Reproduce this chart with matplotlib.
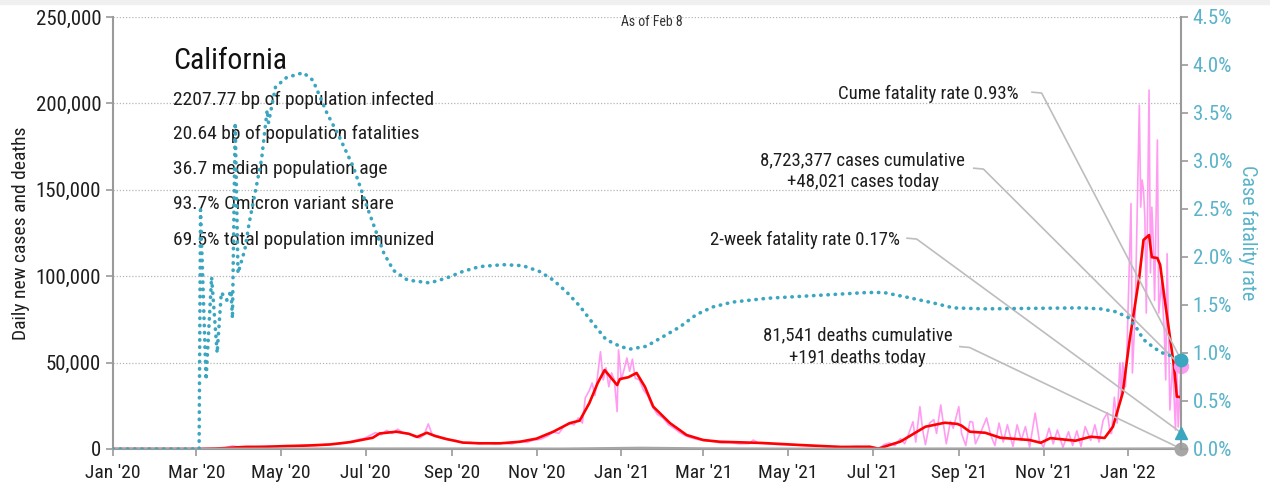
import pandas as pd
import numpy as np
import matplotlib
matplotlib.use('Agg')
import matplotlib.pyplot as plt
import matplotlib.dates as mdates
from matplotlib.ticker import FuncFormatter, MultipleLocator
from matplotlib.patches import Rectangle

plt.rcParams['font.family'] = ['Roboto Condensed', 'DejaVu Sans']

# daily new cases (pink, noisy)
daily_dates = [
    '2020-01-01', '2020-02-15', '2020-03-01', '2020-03-15', '2020-03-22', '2020-03-27', '2020-04-01',
    '2020-04-07', '2020-04-14', '2020-04-21', '2020-04-28', '2020-05-05', '2020-05-12', '2020-05-19',
    '2020-05-26', '2020-06-02', '2020-06-09', '2020-06-16', '2020-06-23', '2020-06-30', '2020-07-04',
    '2020-07-08', '2020-07-12', '2020-07-16', '2020-07-20', '2020-07-24', '2020-07-28', '2020-08-01',
    '2020-08-05', '2020-08-09', '2020-08-12', '2020-08-15', '2020-08-18', '2020-08-22', '2020-08-26',
    '2020-08-30', '2020-09-04', '2020-09-09', '2020-09-14', '2020-09-20', '2020-09-26', '2020-10-02',
    '2020-10-08', '2020-10-14', '2020-10-20', '2020-10-25', '2020-10-30', '2020-11-04', '2020-11-09',
    '2020-11-13', '2020-11-17', '2020-11-21', '2020-11-24', '2020-11-28', '2020-12-01', '2020-12-04',
    '2020-12-06', '2020-12-09', '2020-12-11', '2020-12-13', '2020-12-15', '2020-12-17', '2020-12-19',
    '2020-12-21', '2020-12-23', '2020-12-25', '2020-12-27', '2020-12-29', '2020-12-30', '2021-01-01',
    '2021-01-03', '2021-01-05', '2021-01-07', '2021-01-09', '2021-01-11', '2021-01-14', '2021-01-17',
    '2021-01-20', '2021-01-23', '2021-01-27', '2021-01-31', '2021-02-04', '2021-02-08', '2021-02-12',
    '2021-02-16', '2021-02-20', '2021-02-25', '2021-03-02', '2021-03-08', '2021-03-14', '2021-03-20',
    '2021-03-27', '2021-04-03', '2021-04-06', '2021-04-10', '2021-04-17', '2021-04-24', '2021-05-01',
    '2021-05-08', '2021-05-15', '2021-05-22', '2021-05-29', '2021-06-05', '2021-06-12', '2021-06-19',
    '2021-06-26', '2021-07-03', '2021-07-06', '2021-07-09', '2021-07-13', '2021-07-17', '2021-07-21',
    '2021-07-24', '2021-07-27', '2021-07-30', '2021-08-01', '2021-08-04', '2021-08-06', '2021-08-08',
    '2021-08-11', '2021-08-14', '2021-08-16', '2021-08-19', '2021-08-21', '2021-08-23', '2021-08-26',
    '2021-08-28', '2021-09-01', '2021-09-03', '2021-09-06', '2021-09-09', '2021-09-11', '2021-09-13',
    '2021-09-17', '2021-09-21', '2021-09-24', '2021-09-27', '2021-09-30', '2021-10-03', '2021-10-06',
    '2021-10-10', '2021-10-13', '2021-10-16', '2021-10-19', '2021-10-22', '2021-10-26', '2021-10-29',
    '2021-11-01', '2021-11-05', '2021-11-08', '2021-11-11', '2021-11-15', '2021-11-19', '2021-11-22',
    '2021-11-25', '2021-11-28', '2021-12-01', '2021-12-05', '2021-12-08', '2021-12-11', '2021-12-14',
    '2021-12-17', '2021-12-19', '2021-12-20', '2021-12-22', '2021-12-24', '2021-12-26', '2021-12-27',
    '2021-12-28', '2021-12-30', '2021-12-31', '2022-01-03', '2022-01-04', '2022-01-06', '2022-01-09',
    '2022-01-10', '2022-01-11', '2022-01-12', '2022-01-13', '2022-01-14', '2022-01-16', '2022-01-17',
    '2022-01-18', '2022-01-19', '2022-01-20', '2022-01-22', '2022-01-23', '2022-01-25', '2022-01-27',
    '2022-01-28', '2022-01-29', '2022-01-31', '2022-02-02', '2022-02-04', '2022-02-05', '2022-02-06',
    '2022-02-08',
]
daily_cases = [
    0, 0, 30, 300, 700, 1800, 1100,
    1400, 1100, 1600, 1500, 1900, 1700, 2200,
    2000, 2700, 2800, 3300, 5000, 6200, 7800,
    9500, 8200, 10800, 9000, 11500, 9200, 8800,
    7200, 6400, 8200, 14500, 8000, 7600, 5800,
    5200, 5000, 3500, 3900, 3100, 3600, 3000,
    3400, 2900, 4400, 3800, 5200, 5600, 7500,
    9800, 9000, 13500, 15000, 14000, 18000, 15000,
    29500, 34000, 38200, 31000, 43000, 56300, 40000,
    47000, 36000, 44000, 40000, 21600, 57300, 40000,
    46000, 52700, 45000, 52000, 41000, 40000, 34000,
    31000, 25000, 20000, 18000, 14000, 12000, 9500,
    7800, 6500, 5500, 4800, 4300, 3500, 3700,
    3000, 3100, 5200, 3300, 3000, 2600, 2400,
    2200, 2000, 1800, 1300, 1400, 1100, 1500,
    1200, 800, 100, 2500, 3500, 2000, 6000,
    3000, 9000, 15800, 4000, 24500, 11000, 2500,
    15000, 17000, 9000, 25500, 14000, 3000, 16000,
    12000, 24500, 9000, 2000, 16000, 15500, 3000,
    10000, 18000, 8000, 2000, 15000, 4000, 14000,
    1500, 14000, 5000, 13000, 1000, 20800, 5000,
    1000, 12000, 3000, 11000, 1000, 10000, 2000,
    10500, 1500, 13000, 5000, 14000, 4000, 16800,
    21000, 9000, 9000, 30000, 15000, 49800, 30000,
    50000, 36000, 55000, 142000, 44000, 78700, 199000,
    140000, 155700, 150000, 134000, 78700, 207700, 101900,
    140000, 121000, 86000, 178800, 78700, 97000, 67000,
    40000, 113000, 22600, 49800, 11000, 44000, 12700,
    48021,
]

# 7-day average of cases (red)
avg_dates = [
    '2020-01-01', '2020-03-01', '2020-03-15', '2020-03-25', '2020-04-05', '2020-04-20', '2020-05-05',
    '2020-05-20', '2020-06-05', '2020-06-20', '2020-07-06', '2020-07-11', '2020-07-23', '2020-08-01',
    '2020-08-07', '2020-08-14', '2020-08-20', '2020-08-28', '2020-09-09', '2020-09-21', '2020-10-06',
    '2020-10-20', '2020-11-01', '2020-11-13', '2020-11-25', '2020-12-02', '2020-12-09', '2020-12-15',
    '2020-12-20', '2020-12-29', '2020-12-31', '2021-01-06', '2021-01-12', '2021-01-18', '2021-01-24',
    '2021-02-05', '2021-02-17', '2021-03-01', '2021-03-13', '2021-04-12', '2021-05-10', '2021-06-08',
    '2021-06-29', '2021-07-05', '2021-07-10', '2021-07-21', '2021-08-04', '2021-08-08', '2021-08-22',
    '2021-08-31', '2021-09-03', '2021-09-09', '2021-09-20', '2021-10-01', '2021-10-22', '2021-10-30',
    '2021-11-06', '2021-11-24', '2021-12-05', '2021-12-15', '2021-12-21', '2021-12-28', '2022-01-02',
    '2022-01-05', '2022-01-09', '2022-01-12', '2022-01-16', '2022-01-18', '2022-01-22', '2022-01-24',
    '2022-01-27', '2022-01-30', '2022-02-03', '2022-02-05', '2022-02-08',
]
avg_cases = [
    0, 10, 250, 700, 1200, 1300, 1700,
    2000, 2600, 4000, 6500, 9000, 10000, 8800,
    7000, 9400, 7500, 5800, 3700, 3300, 3300,
    4200, 6000, 10000, 15000, 16400, 26600, 38200,
    45700, 37000, 40500, 41500, 44000, 36000, 24500,
    15000, 8100, 5200, 4200, 3500, 2300, 1200,
    1300, 200, 1500, 4300, 11000, 12900, 15200,
    14500, 13500, 10000, 9400, 6500, 5200, 3600,
    6300, 4800, 7100, 6400, 12900, 32400, 63000,
    78700, 99700, 121000, 123800, 111000, 110500, 106500,
    88000, 70800, 47600, 30300, 30000,
]

# 7-day average of deaths (grey, near zero)
death_dates = ['2020-01-01', '2020-03-15', '2020-04-20', '2020-07-01', '2020-08-10', '2020-10-15',
               '2020-11-20', '2021-01-15', '2021-03-01', '2021-05-01', '2021-07-01', '2021-09-01',
               '2021-11-01', '2021-12-20', '2022-01-31', '2022-02-08']
avg_deaths = [0, 10, 80, 90, 140, 70, 50, 550, 200, 40, 20, 110, 50, 40, 150, 180]

# cumulative case fatality rate, %
cfr_dates = [
    '2020-01-01', '2020-03-01', '2020-03-03', '2020-03-04', '2020-03-08', '2020-03-12', '2020-03-16',
    '2020-03-19', '2020-03-23', '2020-03-26', '2020-03-27', '2020-03-29', '2020-03-31', '2020-04-05',
    '2020-04-08', '2020-04-13', '2020-04-17', '2020-04-21', '2020-04-22', '2020-04-27', '2020-05-05',
    '2020-05-17', '2020-05-24', '2020-06-03', '2020-06-12', '2020-06-22', '2020-07-02', '2020-07-14',
    '2020-07-21', '2020-07-31', '2020-08-16', '2020-08-28', '2020-09-09', '2020-09-21', '2020-10-08',
    '2020-10-22', '2020-11-03', '2020-11-13', '2020-11-23', '2020-12-02', '2020-12-11', '2020-12-21',
    '2020-12-31', '2021-01-07', '2021-01-19', '2021-01-31', '2021-02-12', '2021-02-24', '2021-03-08',
    '2021-03-22', '2021-04-16', '2021-05-10', '2021-06-27', '2021-07-09', '2021-07-26', '2021-08-14',
    '2021-08-28', '2021-09-19', '2021-11-27', '2021-12-12', '2021-12-23', '2022-01-01', '2022-01-07',
    '2022-01-12', '2022-01-20', '2022-01-27', '2022-02-04', '2022-02-08',
]
cfr = [
    0.0, 0.0, 0.0, 2.49, 0.72, 1.79, 1.0,
    1.63, 1.55, 1.65, 1.36, 3.4, 1.83, 2.08,
    2.35, 2.72, 3.02, 3.53, 3.4, 3.77, 3.87,
    3.92, 3.84, 3.5, 3.25, 2.94, 2.52, 2.04,
    1.86, 1.76, 1.73, 1.78, 1.85, 1.90, 1.92,
    1.91, 1.85, 1.76, 1.63, 1.49, 1.32, 1.14,
    1.07, 1.04, 1.07, 1.17, 1.27, 1.40, 1.48,
    1.53, 1.57, 1.59, 1.63, 1.63, 1.58, 1.52,
    1.47, 1.46, 1.47, 1.46, 1.43, 1.37, 1.26,
    1.14, 1.05, 0.99, 0.96, 0.93,
]

last_day = '2022-02-08'
today_cases = 48021
today_deaths = 191
cume_cfr = 0.93
two_week_cfr = 0.17

stats = ['2207.77 bp of population infected', '20.64 bp of population fatalities',
         '36.7 median population age', '93.7% Omicron variant share',
         '69.5% total population immunized']

PINK = '#ff9cf2'
RED = '#ff0000'
TEAL = '#3aa6c0'
TEAL_TXT = '#5ab3ca'
GREY = '#a6a6a6'
LEAD = '#bdbdbd'
INK = '#1e1e1e'

fig = plt.figure(figsize=(12.7, 4.88), dpi=100)
fig.patches.append(Rectangle((0, 1 - 4 / 488), 1, 4 / 488, transform=fig.transFigure,
                             color='#f0f0f0', zorder=0))
ax = fig.add_axes([113 / 1270, 39 / 488, 1068 / 1270, 432 / 488])
ax2 = ax.twinx()

ymax = 250000
rmax = 4.5
x0 = pd.Timestamp('2020-01-01')
x1 = pd.Timestamp(last_day)

ax.plot(pd.to_datetime(daily_dates), daily_cases, color=PINK, lw=1.2, zorder=2)
ax.plot(pd.to_datetime(avg_dates), avg_cases, color=RED, lw=1.9, zorder=3)
ax.plot(pd.to_datetime(death_dates), avg_deaths, color=GREY, lw=2.0, zorder=3)
ax2.plot(pd.to_datetime(cfr_dates), cfr, color=TEAL, lw=2.6, linestyle=(0, (0.1, 1.9)),
         dash_capstyle='round', zorder=3)

ax.set_xlim(x0, x1)
ax.set_ylim(0, ymax)
ax2.set_ylim(0, rmax)

ax.yaxis.set_major_locator(MultipleLocator(50000))
ax.yaxis.set_major_formatter(FuncFormatter(lambda v, p: f'{int(v):,}'))
ax2.yaxis.set_major_locator(MultipleLocator(0.5))
ax2.yaxis.set_major_formatter(FuncFormatter(lambda v, p: f'{v:.1f}%'))
ax.xaxis.set_major_locator(mdates.MonthLocator(bymonth=[1, 3, 5, 7, 9, 11]))
ax.xaxis.set_major_formatter(mdates.DateFormatter("%b '%y"))

for y in range(50000, ymax + 1, 50000):
    ax.axhline(y, color='#b5b5b5', lw=0.9, linestyle=(0, (1, 1.5)), zorder=1)

for a in (ax, ax2):
    for s in a.spines.values():
        s.set_visible(False)
ax.spines['left'].set_visible(True)
ax.spines['bottom'].set_visible(True)
ax2.spines['right'].set_visible(True)
for s in (ax.spines['left'], ax.spines['bottom'], ax2.spines['right']):
    s.set_color('#9a9a9a')
    s.set_linewidth(1.5)

ax.tick_params(axis='y', colors='#9a9a9a', labelcolor=INK, labelsize=15, length=5, width=1.2)
ax.tick_params(axis='x', colors='#9a9a9a', labelcolor=INK, labelsize=14, length=5, width=1.2, pad=6)
ax2.tick_params(axis='y', colors='#9a9a9a', labelcolor=TEAL_TXT, labelsize=15, length=5, width=1.2)

ax.set_ylabel('Daily new cases and deaths', fontsize=14, color=INK, labelpad=4)
ax2.set_ylabel('Case fatality rate', fontsize=14.5, color=TEAL_TXT, rotation=270, labelpad=18)

# title and stat block
ax.text(0.0562, 0.898, 'California', transform=ax.transAxes, fontsize=21.5, color='#111111',
        va='center', ha='left')
for i, line in enumerate(stats):
    ax.text(0.0562, [0.808, 0.729, 0.648, 0.567, 0.484][i], line, transform=ax.transAxes,
            fontsize=14, color=INK, va='center', ha='left')
ax.text(0.5047, 0.988, 'As of Feb 8', transform=ax.transAxes, fontsize=10, color='#333333',
        va='center', ha='center')


def frac(fx, fy):
    # axes fraction -> left-axis data
    return (mdates.date2num(x0) + fx * (mdates.date2num(x1) - mdates.date2num(x0)), fy * ymax)


xe = mdates.date2num(x1)
ends = [
    ((0.848, 0.822), 'Cume fatality rate 0.93%', 'right', (0.8605, 0.826), cume_cfr * ymax / rmax),
    ((0.702, 0.6435), '8,723,377 cases cumulative\n+48,021 cases today', 'center', (0.806, 0.650), today_cases),
    ((0.737, 0.484), '2-week fatality rate 0.17%', 'right', (0.7435, 0.488), two_week_cfr * ymax / rmax),
    ((0.697, 0.237), '81,541 deaths cumulative\n+191 deaths today', 'center', (0.793, 0.237), today_deaths),
]
for (tx, ty), txt, ha, (lx, ly), yend in ends:
    ax.text(tx, ty, txt, transform=ax.transAxes, fontsize=13.5, color=INK, ha=ha,
            va='center', linespacing=1.3, multialignment='center')
    p0 = frac(lx, ly)
    p1 = frac(lx + 0.009, ly - 0.002)
    ax.plot([p0[0], p1[0], xe], [p0[1], p1[1], yend], color=LEAD, lw=1.2, clip_on=False, zorder=4)

ax.plot([x1], [today_deaths], 'o', color=GREY, ms=9, clip_on=False, zorder=6)
ax.plot([x1], [today_cases], 'o', color=PINK, ms=10, clip_on=False, zorder=6)
ax2.plot([x1], [cume_cfr], 'o', color=TEAL, ms=9, clip_on=False, zorder=7)
ax2.plot([x1], [two_week_cfr], '^', color=TEAL, ms=9, clip_on=False, zorder=7)

fig.savefig('out.png', dpi=100)
